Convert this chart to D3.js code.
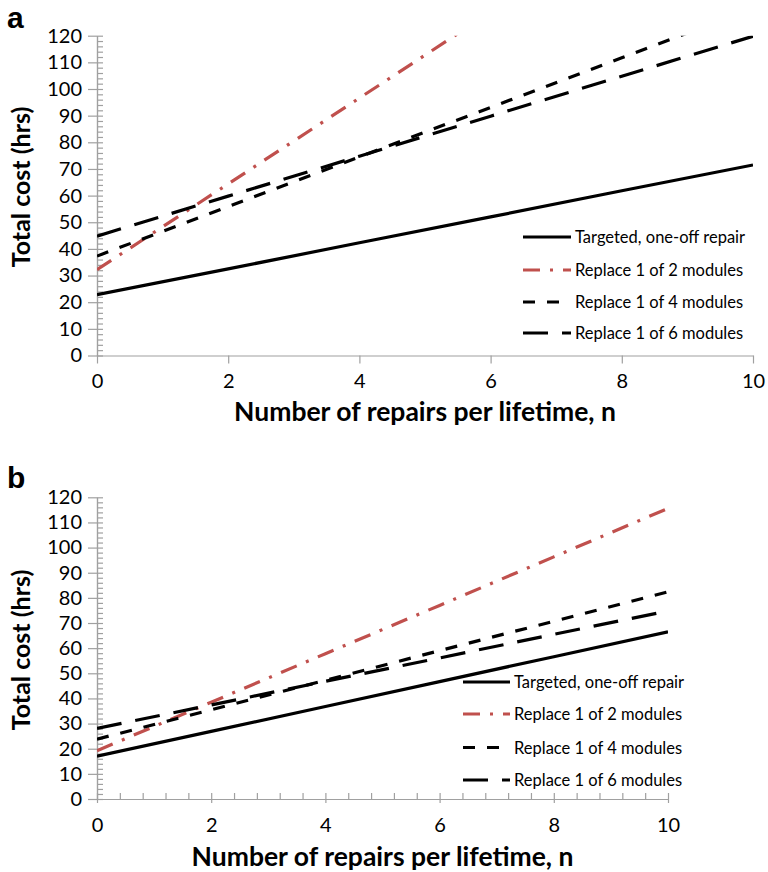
<!DOCTYPE html>
<html>
<head>
<meta charset="utf-8">
<script src="https://cdn.jsdelivr.net/npm/d3@7"></script>
<style>
  html, body { margin: 0; padding: 0; background: #fff; }
  svg { display: block; }
  text { font-family: Lato, "Open Sans", sans-serif; fill: #000; }
</style>
</head>
<body>
<svg id="chart" width="768" height="872"></svg>
<script>
// ---------- DATA ----------
const nValues = [0, 2, 4, 6, 8, 10];
const seriesNames = [
  "Targeted, one-off repair",
  "Replace 1 of 2 modules",
  "Replace 1 of 4 modules",
  "Replace 1 of 6 modules"
];
// Panel a
const aTargeted = [22.8, 32.5, 42.3, 52.0, 61.8, 71.5];
const aReplace2 = [32.2, 64.4, 96.6, 128.8, 161.0, 193.2];
const aReplace4 = [37.3, 55.9, 74.5, 93.1, 111.7, 130.3];
const aReplace6 = [44.8, 59.8, 74.8, 89.8, 104.8, 119.8];
// Panel b
const bTargeted = [17.0, 26.9, 36.8, 46.7, 56.6, 66.5];
const bReplace2 = [19.2, 38.5, 57.8, 77.0, 96.3, 115.6];
const bReplace4 = [23.8, 35.5, 47.2, 59.0, 70.7, 82.4];
const bReplace6 = [28.1, 37.4, 46.8, 56.1, 65.5, 74.8];

const xTickValues = [0, 2, 4, 6, 8, 10];
const yTickValues = [0, 10, 20, 30, 40, 50, 60, 70, 80, 90, 100, 110, 120];
const panelLabels = ["a", "b"];
const xTitle = "Number of repairs per lifetime, n";
const yTitle = "Total cost (hrs)";

// ---------- STYLES ----------
const seriesStyles = [
  { color: "#000", dash: null },
  { color: "#c0504d", dash: "17,10,3,10" },
  { color: "#000", dash: "12,12" },
  { color: "#000", dash: "25,14" }
];
const axisColor = "#a0a0a0";

const svg = d3.select("#chart");

const panels = [
  { label: panelLabels[0], series: [aTargeted, aReplace2, aReplace4, aReplace6],
    x0: 97, x1: 753, yBottom: 355.5, yTop: 35.7, labelY: 28,
    xMinor: false, xMajorDown: 8,
    legendX: 523, legendSampleW: 48, legendY: [237, 270, 302, 333],
    xTitleY: 421, yTitleCenter: 187, clipId: "clipA" },
  { label: panelLabels[1], series: [bTargeted, bReplace2, bReplace4, bReplace6],
    x0: 97, x1: 668, yBottom: 799, yTop: 497.3, labelY: 488,
    xMinor: true, xMajorDown: 4,
    legendX: 463, legendSampleW: 47, legendY: [682, 714, 747.5, 780],
    xTitleY: 866, yTitleCenter: 650, clipId: "clipB" }
];

panels.forEach(p => {
  const x = d3.scaleLinear().domain([0, 10]).range([p.x0, p.x1]);
  const y = d3.scaleLinear().domain([0, 120]).range([p.yBottom, p.yTop]);
  const g = svg.append("g");

  // clip
  svg.append("clipPath").attr("id", p.clipId)
    .append("rect")
    .attr("x", p.x0).attr("y", p.yTop)
    .attr("width", p.x1 - p.x0).attr("height", p.yBottom - p.yTop);

  // Y axis: major outside ticks with labels
  const yAxisL = g.append("g").attr("transform", `translate(${p.x0},0)`)
    .call(d3.axisLeft(y).tickValues(yTickValues).tickSize(9).tickSizeOuter(0).tickPadding(6));
  yAxisL.selectAll("text").style("font-size", "20px").attr("fill", "#000");
  // Y axis inside minor ticks (every 2)
  const yMinor = d3.range(0, 121, 2);
  g.append("g").attr("transform", `translate(${p.x0},0)`)
    .call(d3.axisRight(y).tickValues(yMinor).tickSize(6).tickSizeOuter(0).tickFormat(""));

  // X axis
  const xAxis = g.append("g").attr("transform", `translate(0,${p.yBottom})`)
    .call(d3.axisBottom(x).tickValues(xTickValues).tickSize(p.xMajorDown).tickSizeOuter(0)
      .tickPadding(18.5 - p.xMajorDown).tickFormat(d3.format("d")));
  xAxis.selectAll("text").style("font-size", "20px").attr("fill", "#000");
  if (p.xMinor) {
    const xMinor = d3.range(0, 10.001, 0.4).map(v => +v.toFixed(1));
    g.append("g").attr("transform", `translate(0,${p.yBottom})`)
      .call(d3.axisTop(x).tickValues(xMinor).tickSize(6).tickSizeOuter(0).tickFormat(""));
  }

  g.selectAll(".domain, .tick line").attr("stroke", axisColor).attr("stroke-width", 1.2);

  // Lines
  const line = d3.line().x((d, i) => x(nValues[i])).y(d => y(d));
  const lg = g.append("g").attr("clip-path", `url(#${p.clipId})`);
  p.series.forEach((vals, si) => {
    const st = seriesStyles[si];
    lg.append("path")
      .datum(vals)
      .attr("d", line)
      .attr("fill", "none")
      .attr("stroke", st.color)
      .attr("stroke-width", 3.2)
      .attr("stroke-dasharray", st.dash)
      .attr("stroke-linecap", "butt");
  });

  // Legend
  const leg = g.append("g");
  seriesNames.forEach((name, si) => {
    const st = seriesStyles[si];
    const ly = p.legendY[si];
    leg.append("line")
      .attr("x1", p.legendX).attr("x2", p.legendX + p.legendSampleW)
      .attr("y1", ly).attr("y2", ly)
      .attr("stroke", st.color).attr("stroke-width", 3.2)
      .attr("stroke-dasharray", st.dash);
    leg.append("text")
      .attr("x", p.legendX + p.legendSampleW + 4)
      .attr("y", ly)
      .attr("dominant-baseline", "central")
      .style("font-size", "16.5px")
      .text(name);
  });

  // Panel label
  svg.append("text").attr("x", 7).attr("y", p.labelY)
    .style("font-family", "'Liberation Sans', Arial, sans-serif")
    .style("font-weight", "bold").style("font-size", "30px")
    .text(p.label);

  // X title
  svg.append("text")
    .attr("x", (p.x0 + p.x1) / 2).attr("y", p.xTitleY)
    .attr("text-anchor", "middle")
    .style("font-weight", "bold").style("font-size", "26.5px")
    .text(xTitle);

  // Y title
  svg.append("text")
    .attr("transform", `translate(30,${p.yTitleCenter}) rotate(-90)`)
    .attr("text-anchor", "middle")
    .style("font-weight", "bold").style("font-size", "25px")
    .text(yTitle);
});
</script>
</body>
</html>
